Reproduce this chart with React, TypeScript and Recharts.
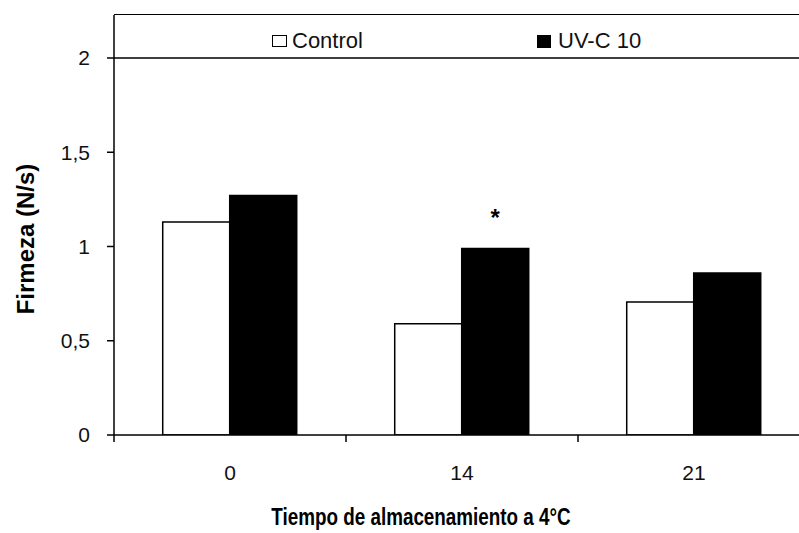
import { Bar, BarChart, LabelList, Label, ReferenceLine, XAxis, YAxis } from 'recharts'

const days = ['0', '14', '21']
const control = [1.13, 0.59, 0.705]
const uvc = [1.27, 0.99, 0.86]
const marks = ['', '*', '']
const yTicks = [0, 0.5, 1, 1.5, 2]
const seriesNames = ['Control', 'UV-C 10']

const data = days.map((d, i) => ({ day: d, control: control[i], uvc: uvc[i], mark: marks[i] }))

const W = 810
const H = 533
const Y_W = 114
const BAND_HALF = (W - Y_W) / days.length / 2
const font = '"Liberation Sans", Arial, sans-serif'

function DayTick(props: any) {
  const { x, y, payload } = props
  return (
    <g>
      <line x1={x - BAND_HALF} y1={y} x2={x - BAND_HALF} y2={y + 7} stroke="#000" strokeWidth={1.5} />
      <text x={x} y={y + 37} textAnchor="middle" dominantBaseline="central" fontSize={21} fill="#111" fontFamily={font}>
        {payload.value}
      </text>
    </g>
  )
}

function fmt(v: number) {
  return String(v).replace('.', ',')
}

export default function App() {
  return (
    <div style={{ position: 'absolute', left: 0, top: 0, width: 799, height: 533, overflow: 'hidden', background: '#fff' }}>
      <BarChart
        width={W}
        height={H}
        data={data}
        margin={{ top: 15, right: 0, left: 0, bottom: 0 }}
        barCategoryGap="21%"
        barGap={0}
        style={{ fontFamily: font }}
      >
        <XAxis
          dataKey="day"
          height={H - 435}
          tickLine={false}
          tickSize={0}
          tickMargin={0}
          axisLine={{ stroke: '#000', strokeWidth: 1.5 }}
          tick={<DayTick />}
          interval={0}
        >
          <Label
            content={() => (
              <text
                x={421}
                y={517}
                transform="translate(421 0) scale(0.82 1) translate(-421 0)"
                textAnchor="middle"
                dominantBaseline="central"
                fontSize={23}
                fontWeight="bold"
                fill="#000"
                fontFamily={font}
              >
                Tiempo de almacenamiento  a 4°C
              </text>
            )}
          />
        </XAxis>
        <YAxis
          width={Y_W}
          domain={[0, 2.228]}
          ticks={yTicks}
          allowDataOverflow
          tickFormatter={fmt}
          tickSize={7}
          tickMargin={17}
          tickLine={{ stroke: '#000', strokeWidth: 1.5 }}
          axisLine={{ stroke: '#000', strokeWidth: 1.5 }}
          tick={{ fontSize: 21, fill: '#111', fontFamily: font }}
        >
          <Label
            content={() => (
              <text
                x={25}
                y={239}
                transform="rotate(-90 25 239)"
                textAnchor="middle"
                dominantBaseline="central"
                fontSize={24}
                fontWeight="bold"
                fill="#000"
                fontFamily={font}
              >
                Firmeza (N/s)
              </text>
            )}
          />
        </YAxis>
        <ReferenceLine y={2} stroke="#000" strokeWidth={1.5} />
        <Bar dataKey="control" name={seriesNames[0]} fill="#fff" stroke="#000" strokeWidth={1.5} isAnimationActive={false} />
        <Bar dataKey="uvc" name={seriesNames[1]} fill="#000" stroke="#000" strokeWidth={1.5} isAnimationActive={false}>
          <LabelList dataKey="mark" position="top" offset={22} style={{ fontSize: 24, fontWeight: 'bold', fill: '#000' }} />
        </Bar>
      </BarChart>
      <div
        style={{
          position: 'absolute',
          left: Y_W,
          top: 14,
          width: 799 - Y_W,
          height: 44,
          borderTop: '1.5px solid #000',
          boxSizing: 'border-box',
          fontFamily: font,
          fontSize: 22,
          color: '#111',
          lineHeight: '26px',
        }}
      >
        <div style={{ position: 'absolute', left: 158, top: 13, display: 'flex', alignItems: 'center' }}>
          <span style={{ width: 13, height: 10, border: '1.5px solid #000', background: '#fff', marginRight: 5 }} />
          {seriesNames[0]}
        </div>
        <div style={{ position: 'absolute', left: 423, top: 13, display: 'flex', alignItems: 'center' }}>
          <span style={{ width: 14, height: 13, background: '#000', marginRight: 7 }} />
          {seriesNames[1]}
        </div>
      </div>
    </div>
  )
}
